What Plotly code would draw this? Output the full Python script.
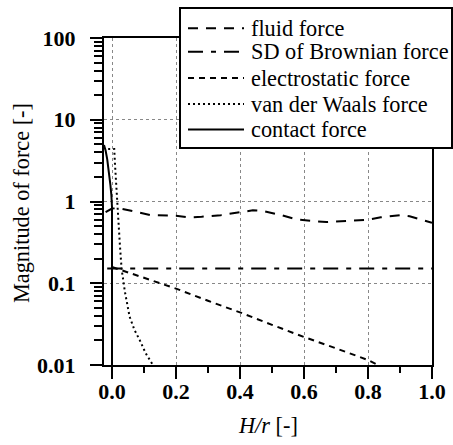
import plotly.graph_objects as go

# ---- data ----
fluid_x = [-0.02, 0.0, 0.02, 0.05, 0.08, 0.12, 0.16, 0.20, 0.24, 0.28, 0.34, 0.40, 0.44, 0.47,
           0.53, 0.58, 0.67, 0.74, 0.80, 0.84, 0.90, 0.93, 1.0]
fluid_y = [0.74, 0.82, 0.83, 0.79, 0.74, 0.68, 0.68, 0.67, 0.64, 0.65, 0.68, 0.73, 0.78, 0.77,
           0.68, 0.60, 0.56, 0.58, 0.60, 0.64, 0.68, 0.66, 0.55]

sd_x = [-0.015, 0.5, 1.0]
sd_y = [0.152, 0.152, 0.152]

elec_x = [0.0, 0.1, 0.2, 0.3, 0.4, 0.5, 0.6, 0.7, 0.8, 0.83]
elec_y = [0.158, 0.117, 0.086, 0.061, 0.044, 0.031, 0.022, 0.016, 0.0115, 0.010]

vdw_x = [-0.012, 0.007, 0.009, 0.012, 0.015, 0.020, 0.025, 0.030, 0.040, 0.055, 0.070, 0.087,
         0.105, 0.128, 0.135]
vdw_y = [4.4, 4.4, 3.0, 1.8, 1.1, 0.55, 0.28, 0.15, 0.08, 0.039, 0.027, 0.020, 0.014, 0.010, 0.009]

contact_x = [-0.025, -0.02, -0.015, -0.01, -0.005, -0.002, 0.0, 0.0]
contact_y = [4.9, 4.2, 3.3, 2.4, 1.6, 1.2, 0.85, 0.001]

series_names = ["fluid force", "SD of Brownian force", "electrostatic force",
                "van der Waals force", "contact force"]
series_dash = ["10px,8px", "15px,8px,5px,8px", "6px,5px", "2px,3px", "solid"]

y_tickvals = [0.01, 0.1, 1, 10, 100]
y_ticktext = ["0.01", "0.1", "1", "10", "100"]
x_tickvals = [0.0, 0.2, 0.4, 0.6, 0.8, 1.0]
x_ticktext = ["0.0", "0.2", "0.4", "0.6", "0.8", "1.0"]

# ---- layout geometry (pixels) ----
W, H = 453, 445
L, R, T, B = 104, 21, 38, 80
PW, PH = W - L - R, H - T - B


def px2x(px):
    return (px - L) / PW


def py2y(py):
    return (H - B - py) / PH


FONT = "Liberation Serif"
TXT = 22.3

fig = go.Figure()
data = [(fluid_x, fluid_y), (sd_x, sd_y), (elec_x, elec_y), (vdw_x, vdw_y), (contact_x, contact_y)]
for (xs, ys), name, dash in zip(data, series_names, series_dash):
    fig.add_trace(go.Scatter(x=xs, y=ys, mode="lines", name=name,
                             line=dict(color="black", width=2, dash=dash),
                             showlegend=False))

fig.update_layout(
    width=W, height=H,
    margin=dict(l=L, r=R, t=T, b=B, autoexpand=False),
    paper_bgcolor="white", plot_bgcolor="white",
    font=dict(family=FONT, color="black"),
)

fig.update_xaxes(
    range=[-0.025, 1.0],
    tickvals=x_tickvals, ticktext=x_ticktext,
    tickfont=dict(family=FONT, size=22, weight="bold"),
    ticks="outside", ticklen=12, tickwidth=2, tickcolor="black",
    showline=True, linewidth=2, linecolor="black", mirror=True,
    showgrid=True, gridcolor="#888888", gridwidth=1, griddash="dot",
    zeroline=False, automargin=False,
    minor=dict(dtick=0.1, ticks="outside", ticklen=6, tickwidth=2, tickcolor="black", showgrid=False),
    ticklabelstandoff=-6,
)
fig.update_yaxes(
    type="log", range=[-2, 2],
    tickvals=y_tickvals, ticktext=y_ticktext,
    tickfont=dict(family=FONT, size=22, weight="bold"),
    ticks="outside", ticklen=12, tickwidth=2, tickcolor="black",
    showline=True, linewidth=2, linecolor="black", mirror=True,
    showgrid=True, gridcolor="#888888", gridwidth=1, griddash="dot",
    zeroline=False, automargin=False,
    minor=dict(dtick="D1", ticks="outside", ticklen=8, tickwidth=2, tickcolor="black", showgrid=False),
    ticklabelstandoff=10,
)

# axis titles
fig.add_annotation(text="<i>H/r</i> [-]", xref="paper", yref="paper",
                   x=px2x(268), y=py2y(425), showarrow=False,
                   font=dict(family=FONT, size=TXT), xanchor="center", yanchor="middle")
fig.add_annotation(text="Magnitude of force [-]", xref="paper", yref="paper",
                   x=px2x(21), y=py2y(203), showarrow=False, textangle=-90,
                   font=dict(family=FONT, size=TXT), xanchor="center", yanchor="middle")

# legend box (drawn manually)
fig.add_shape(type="rect", xref="paper", yref="paper",
              x0=px2x(180), x1=px2x(452), y0=py2y(148), y1=py2y(8),
              line=dict(color="black", width=2), fillcolor="white", layer="above")
rows = [28.3, 51.7, 78, 104, 129.5]
for name, dash, ry in zip(series_names, series_dash, rows):
    fig.add_shape(type="line", xref="paper", yref="paper",
                  x0=px2x(188), x1=px2x(244), y0=py2y(ry), y1=py2y(ry),
                  line=dict(color="black", width=2, dash=dash), layer="above")
    fig.add_annotation(text=name, xref="paper", yref="paper",
                       x=px2x(249), y=py2y(ry), showarrow=False,
                       font=dict(family=FONT, size=TXT), xanchor="left", yanchor="middle")

fig.write_html("out.html", config={"displayModeBar": False},
               post_script="document.body.style.margin='0';document.body.style.overflow='hidden';")
